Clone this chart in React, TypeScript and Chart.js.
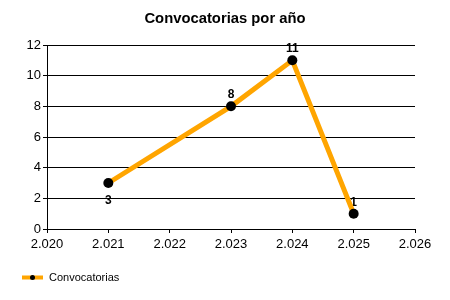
import React, { useEffect, useRef } from "react";
import { Chart, registerables } from "chart.js";

Chart.register(...registerables);

const years = [2021, 2023, 2024, 2025];
const counts = [3, 8, 11, 1];
const labelPlacement = ["below", "above", "above", "above"];
const title = "Convocatorias por año";
const seriesName = "Convocatorias";

const FONT = "'Liberation Sans', Arial, sans-serif";

const fmtThousands = (v: number) => {
  const s = String(Math.round(v));
  return s.length > 3 ? s.slice(0, s.length - 3) + "." + s.slice(s.length - 3) : s;
};

const overlayPlugin = {
  id: "overlay",
  beforeDatasetsDraw(chart: any) {
    const ctx = chart.ctx;
    const meta = chart.getDatasetMeta(0);
    ctx.save();
    ctx.fillStyle = "#000";
    ctx.font = `bold 12px ${FONT}`;
    ctx.textAlign = "center";
    ctx.textBaseline = "alphabetic";
    meta.data.forEach((pt: any, i: number) => {
      const base = labelPlacement[i] === "below" ? pt.y + 21 : pt.y - 8;
      ctx.fillText(String(counts[i]), pt.x, base);
    });
    ctx.restore();
  },
  afterDraw(chart: any) {
    const ctx = chart.ctx;
    ctx.save();
    // title
    ctx.fillStyle = "#000";
    ctx.font = `bold 14.8px ${FONT}`;
    ctx.textAlign = "center";
    ctx.textBaseline = "middle";
    ctx.fillText(title, 225, 19);
    // legend
    const ly = 277.5;
    ctx.strokeStyle = "#FFA500";
    ctx.lineWidth = 4;
    ctx.beginPath();
    ctx.moveTo(22, ly);
    ctx.lineTo(43, ly);
    ctx.stroke();
    ctx.fillStyle = "#000";
    ctx.beginPath();
    ctx.arc(32.5, ly, 2.5, 0, Math.PI * 2);
    ctx.fill();
    ctx.font = `11px ${FONT}`;
    ctx.textAlign = "left";
    ctx.fillText(seriesName, 49, ly);
    ctx.restore();
  },
};

export default function App() {
  const ref = useRef<HTMLCanvasElement>(null);
  useEffect(() => {
    document.body.style.margin = "0";
    const chart = new Chart(ref.current as HTMLCanvasElement, {
      type: "line",
      data: {
        datasets: [
          {
            label: seriesName,
            data: years.map((y, i) => ({ x: y, y: counts[i] })),
            borderColor: "#FFA500",
            borderWidth: 5,
            pointRadius: 5,
            pointHoverRadius: 5,
            pointBackgroundColor: "#000",
            pointBorderWidth: 0,
            tension: 0,
            clip: false as any,
          },
        ],
      },
      options: {
        animation: false,
        responsive: false,
        maintainAspectRatio: false,
        events: [],
        layout: { padding: { left: 0, top: 45, right: 35, bottom: 0 } },
        plugins: {
          legend: { display: false },
          title: { display: false },
          tooltip: { enabled: false },
        },
        scales: {
          x: {
            type: "linear",
            min: 2020,
            max: 2026,
            ticks: {
              stepSize: 1,
              color: "#000",
              font: { family: FONT, size: 13 },
              padding: 4,
              maxRotation: 0,
              callback: (v: any) => fmtThousands(Number(v)),
            },
            grid: {
              display: true,
              drawOnChartArea: false,
              drawTicks: true,
              tickLength: 4,
              color: "#000",
            },
            border: { display: true, color: "#000", width: 1 },
            afterFit: (s: any) => {
              s.height = 71;
            },
          },
          y: {
            min: 0,
            max: 12,
            ticks: {
              stepSize: 2,
              color: "#000",
              font: { family: FONT, size: 13 },
              padding: 2,
            },
            grid: {
              display: true,
              drawTicks: true,
              tickLength: 4,
              color: "#000",
            },
            border: { display: true, color: "#000", width: 1 },
            afterFit: (s: any) => {
              s.width = 47;
            },
          },
        },
      },
      plugins: [overlayPlugin],
    } as any);
    return () => chart.destroy();
  }, []);
  return (
    <div style={{ width: 450, height: 300, background: "#fff" }}>
      <canvas ref={ref} width={450} height={300} style={{ display: "block" }} />
    </div>
  );
}
